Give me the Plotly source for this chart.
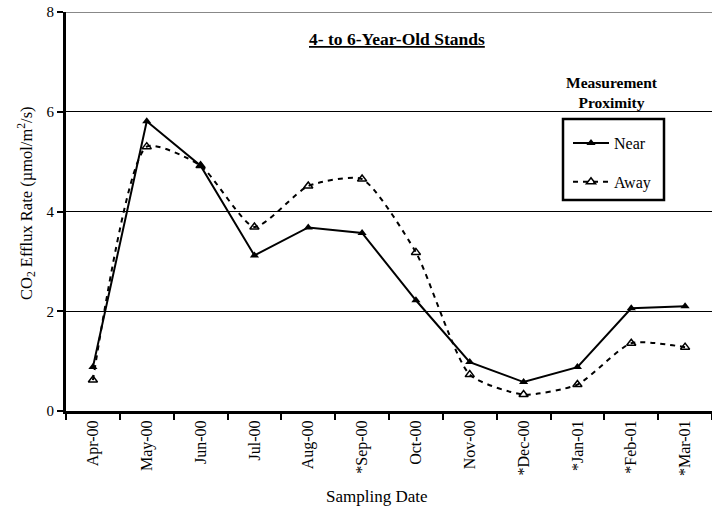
import plotly.graph_objects as go

dates = ["Apr-00", "May-00", "Jun-00", "Jul-00", "Aug-00", "*Sep-00", "Oct-00",
         "Nov-00", "*Dec-00", "*Jan-01", "*Feb-01", "*Mar-01"]
near = [0.88, 5.81, 4.92, 3.12, 3.68, 3.57, 2.22, 0.98, 0.58, 0.88, 2.06, 2.10]
away = [0.62, 5.30, 4.92, 3.69, 4.51, 4.65, 3.18, 0.73, 0.33, 0.53, 1.36, 1.28]
y_ticks = [0, 2, 4, 6, 8]

FONT = "Liberation Serif"

fig = go.Figure()
fig.add_trace(go.Scatter(
    x=dates, y=near, name="Near", mode="lines+markers",
    line=dict(color="black", width=2),
    marker=dict(symbol="triangle-up", size=8, color="black"),
    legendgroup="a",
))
fig.add_trace(go.Scatter(
    x=dates, y=away, name="Away", mode="lines+markers",
    line=dict(color="black", width=2, dash="5px,5px", shape="spline", smoothing=0.6),
    marker=dict(symbol="triangle-up-open", size=8, color="black", line=dict(width=1.5)),
    legendgroup="b",
))

fig.update_layout(
    width=712, height=510,
    margin=dict(l=66, r=0, t=12, b=99),
    paper_bgcolor="white", plot_bgcolor="white",
    font=dict(family=FONT, size=15, color="black"),
    showlegend=True,
    legend=dict(
        x=(568 - 66) / 646, y=(411 - 126) / 399, xanchor="left", yanchor="top",
        borderwidth=0, bgcolor="rgba(0,0,0,0)",
        font=dict(family=FONT, size=16),
        tracegroupgap=15, traceorder="grouped", itemwidth=36,
    ),
    xaxis=dict(
        type="category", showgrid=False,
        showline=True, linecolor="black", linewidth=3,
        ticks="outside", tickson="boundaries", ticklen=6, tickwidth=2, tickcolor="black",
        tickangle=-90, tickfont=dict(family=FONT, size=16),
        range=[-0.5, 11.5],
    ),
    yaxis=dict(
        range=[0, 8], tickvals=y_ticks,
        showgrid=True, gridcolor="black", gridwidth=1,
        showline=True, linecolor="black", linewidth=3,
        ticks="outside", ticklen=6, tickwidth=2, tickcolor="black",
        tickfont=dict(family=FONT, size=15),
        zeroline=False,
    ),
    annotations=[
        dict(text="<b><u>4- to 6-Year-Old Stands</u></b>", xref="paper", yref="paper",
             x=(397 - 66) / 646, y=(411 - 39) / 399, xanchor="center", yanchor="middle",
             showarrow=False, font=dict(family=FONT, size=17.5)),
        dict(text="<b>Measurement<br>Proximity</b>", xref="paper", yref="paper",
             x=(611.5 - 66) / 646, y=(411 - 92) / 399, xanchor="center", yanchor="middle",
             showarrow=False, font=dict(family=FONT, size=15.5)),
        dict(text="Sampling Date", xref="paper", yref="paper",
             x=(376.5 - 66) / 646, y=(411 - 496) / 399, xanchor="center", yanchor="middle",
             showarrow=False, font=dict(family=FONT, size=17)),
        dict(text="CO<sub>2</sub> Efflux Rate (µmol/m<sup>2</sup>/s)", xref="paper", yref="paper",
             x=(26 - 66) / 646, y=(411 - 203) / 399, xanchor="center", yanchor="middle",
             textangle=-90, showarrow=False, font=dict(family=FONT, size=16.5)),
    ],
)
fig.add_shape(type="line", xref="paper", yref="y", x0=0, x1=1, y0=8, y1=8,
              line=dict(color="#888888", width=2))
fig.add_shape(type="rect", xref="paper", yref="paper",
              x0=(563 - 66) / 646, x1=(664 - 66) / 646,
              y0=(411 - 200) / 399, y1=(411 - 119) / 399,
              line=dict(color="black", width=2.5), fillcolor="white", layer="below")

fig.write_html("out.html")
